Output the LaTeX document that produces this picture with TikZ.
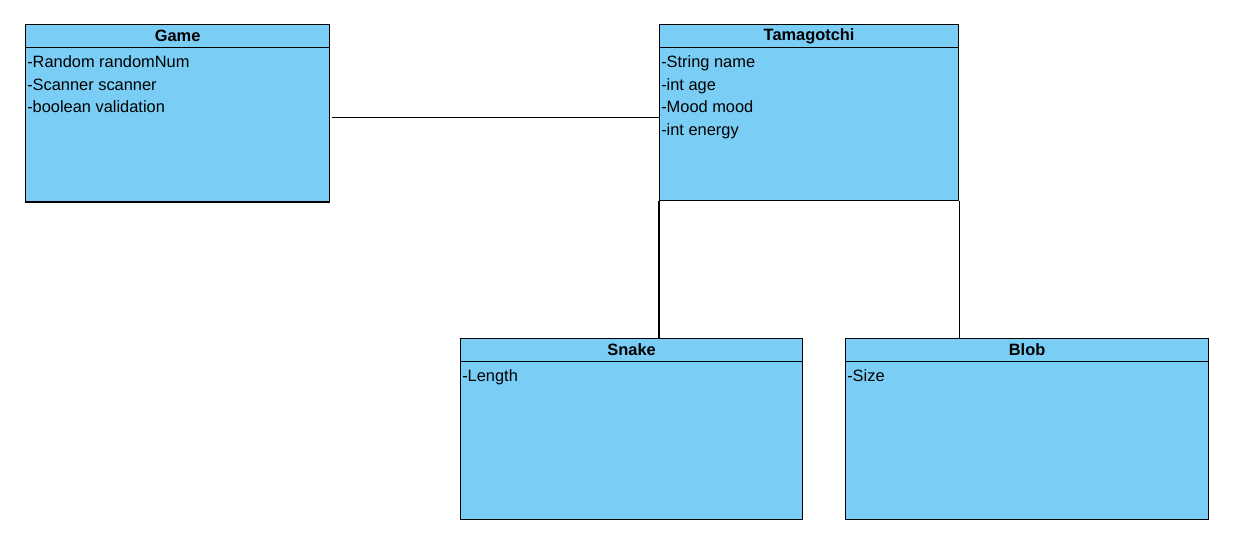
\documentclass[tikz,border=0pt]{standalone}
\usepackage{fontspec}
\setmainfont{Liberation Sans}
\usepackage{tikz}
\definecolor{umlblue}{RGB}{122,206,245}

\begin{document}
\begin{tikzpicture}[x=0.75pt,y=-0.75pt]
\tikzset{classbox/.style = {draw, line width=0.9pt, fill=umlblue, anchor=north west, inner sep=0pt}}
\tikzset{header/.style = {draw, line width=0.9pt, fill=umlblue, anchor=north west, inner sep=0pt, minimum height=17pt, font=\fontsize{12.3}{14}\selectfont\bfseries}}
\tikzset{attrs/.style = {anchor=north west, align=left, inner xsep=1.5pt, inner ysep=5.5pt, font=\fontsize{12.3}{17}\selectfont}}
\tikzset{edge/.style = {-, line width=0.9pt}}
\useasboundingbox (0,0) rectangle (1244,556);

\node[classbox, minimum width=228pt, minimum height=133pt] (game) at (25,24) {};
\node[header, minimum width=228pt] (gameh) at (game.north west) {Game};
\node[attrs] (gamea) at (gameh.south west) {-Random randomNum\\-Scanner scanner\\-boolean validation};

\node[classbox, minimum width=224.25pt, minimum height=132pt] (tama) at (659,24) {};
\node[header, minimum width=224.25pt] (tamah) at (tama.north west) {Tamagotchi};
\node[attrs] (tamaa) at (tamah.south west) {-String name\\-int age\\-Mood mood\\-int energy};

\node[classbox, minimum width=256.5pt, minimum height=135.75pt] (snake) at (460,338) {};
\node[header, minimum width=256.5pt] (snakeh) at (snake.north west) {Snake};
\node[attrs] (snakea) at (snakeh.south west) {-Length};

\node[classbox, minimum width=272.25pt, minimum height=135.75pt] (blob) at (845,338) {};
\node[header, minimum width=272.25pt] (blobh) at (blob.north west) {Blob};
\node[attrs] (bloba) at (blobh.south west) {-Size};

\coordinate (link) at ([yshift=-3.5pt]tama.west);
\draw[edge, shorten >=1.5pt] (link) -- (link -| game.east);
\draw[edge] (tama.south west) -- (tama.south west |- snake.north);
\draw[edge] (tama.south east) -- (tama.south east |- blob.north);
\end{tikzpicture}
\end{document}
